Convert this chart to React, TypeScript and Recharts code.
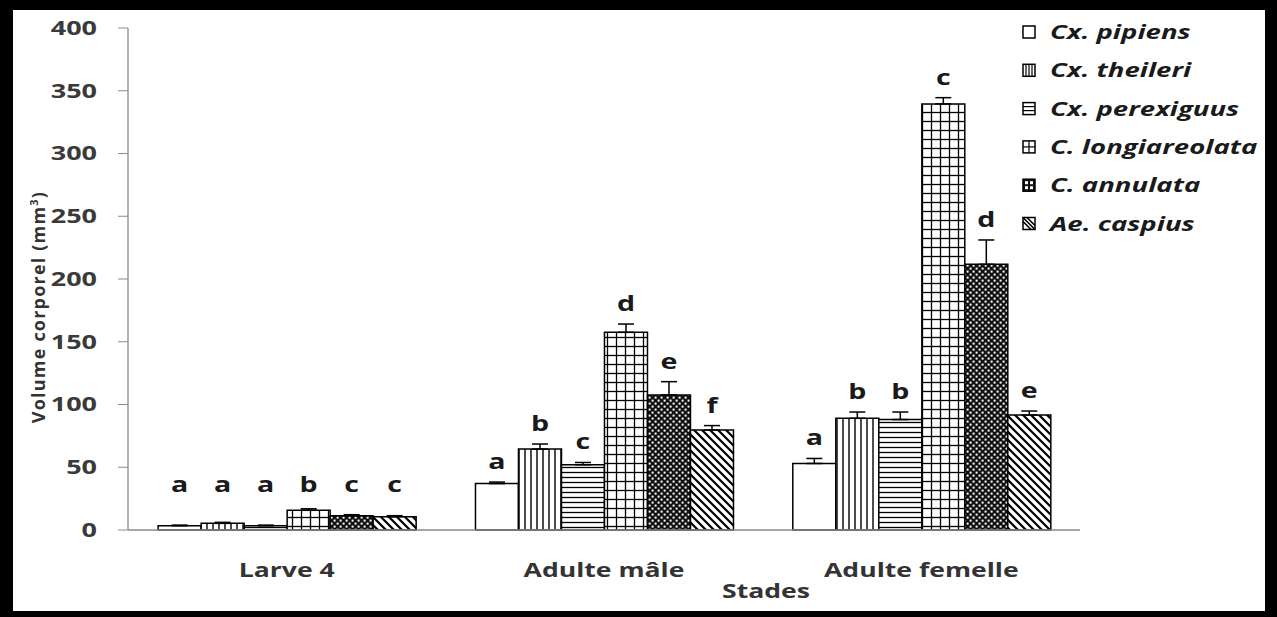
import { BarChart, Bar, XAxis, YAxis, ErrorBar, LabelList, Label } from 'recharts';

// Stades (catégories) et espèces
const stages = ['Larve 4', 'Adulte mâle', 'Adulte femelle'];

const pipiens = [3.4, 37, 53];
const theileri = [5.3, 64.5, 89];
const perexiguus = [3.4, 52, 88];
const longiareolata = [15.7, 157.5, 339.5];
const annulata = [11.4, 107.6, 211.7];
const caspius = [10.6, 79.7, 91.6];

// erreurs (barre supérieure seulement)
const pipiensErr = [0.5, 1.2, 4];
const theileriErr = [0.8, 4, 5];
const perexiguusErr = [0.5, 1.8, 6];
const longiareolataErr = [1.2, 6.6, 5];
const annulataErr = [0.8, 10.6, 19.4];
const caspiusErr = [0.8, 3.5, 3.2];

// lettres de significativité
const pipiensLetters = ['a', 'a', 'a'];
const theileriLetters = ['a', 'b', 'b'];
const perexiguusLetters = ['a', 'c', 'b'];
const longiareolataLetters = ['b', 'd', 'c'];
const annulataLetters = ['c', 'e', 'd'];
const caspiusLetters = ['c', 'f', 'e'];

const yTicks = [0, 50, 100, 150, 200, 250, 300, 350, 400];
const edgeTicks = [0, 1, 2, 3];

const FONT = "'Open Sans', sans-serif";
const GREY = '#8a8a8a';

const SERIES = [
  { key: 'pipiens', name: 'Cx. pipiens', fill: '#ffffff', values: pipiens, errs: pipiensErr, letters: pipiensLetters },
  { key: 'theileri', name: 'Cx. theileri', fill: 'url(#pTheileri)', values: theileri, errs: theileriErr, letters: theileriLetters },
  { key: 'perexiguus', name: 'Cx. perexiguus', fill: 'url(#pPerex)', values: perexiguus, errs: perexiguusErr, letters: perexiguusLetters },
  { key: 'longiareolata', name: 'C. longiareolata', fill: 'url(#pLongi)', values: longiareolata, errs: longiareolataErr, letters: longiareolataLetters },
  { key: 'annulata', name: 'C. annulata', fill: 'url(#pAnnul)', values: annulata, errs: annulataErr, letters: annulataLetters },
  { key: 'caspius', name: 'Ae. caspius', fill: 'url(#pCasp)', values: caspius, errs: caspiusErr, letters: caspiusLetters },
];

const data = stages.map((stage, i) => {
  const row: any = { stage };
  SERIES.forEach((s) => {
    row[s.key] = s.values[i];
    row[s.key + 'Err'] = [0, s.errs[i]];
    row[s.key + 'Letter'] = s.letters[i];
  });
  return row;
});

function YTick(p: any) {
  return (
    <text transform={`translate(${p.x},${p.y}) scale(1.42,1)`} textAnchor="end" dy="0.36em"
      fontFamily={FONT} fontWeight={700} fontSize={19} fill="#3a3a3a">
      {p.payload.value}
    </text>
  );
}

function XTick(p: any) {
  return (
    <text transform={`translate(${p.x},${p.y + 47}) scale(1.33,1)`} textAnchor="middle"
      fontFamily={FONT} fontWeight={700} fontSize={20} fill="#333">
      {p.payload.value}
    </text>
  );
}

// lettre au-dessus de la barre d'erreur
const letterContent = (s: any) => (props: any) => {
  const vb = props.viewBox || props;
  const x = vb.x ?? props.x;
  const y = vb.y ?? props.y;
  const w = vb.width ?? props.width;
  const h = vb.height ?? props.height;
  const i = props.index ?? 0;
  const perUnit = h / s.values[i];
  const errTop = y - s.errs[i] * perUnit;
  const by = Math.min(errTop - 13, y + h - 38);
  return (
    <text transform={`translate(${x + w / 2},${by}) scale(1.3,1)`} textAnchor="middle"
      fontFamily={FONT} fontWeight={700} fontSize={22} fill="#1a1a1a">
      {props.value}
    </text>
  );
};

// petits motifs de la légende (2 traits par case)
function Swatch({ k, x, y }: { k: string; x: number; y: number }) {
  const st = { stroke: '#000', strokeWidth: 1.2 };
  return (
    <g>
      <rect x={x} y={y} width={12} height={12} fill={k === 'annulata' ? '#111' : '#fff'} stroke="#000" strokeWidth={1.5} />
      {k === 'theileri' && [3, 6, 9].map((d) => <line key={d} x1={x + d} y1={y} x2={x + d} y2={y + 12} {...st} />)}
      {k === 'perexiguus' && [4, 8].map((d) => <line key={d} x1={x} y1={y + d} x2={x + 12} y2={y + d} {...st} />)}
      {k === 'longiareolata' && (
        <>
          <line x1={x + 6} y1={y} x2={x + 6} y2={y + 12} {...st} />
          <line x1={x} y1={y + 6} x2={x + 12} y2={y + 6} {...st} />
        </>
      )}
      {k === 'annulata' && [[2, 2], [7, 2], [2, 7], [7, 7]].map(([a, b]) => (
        <rect key={`${a}-${b}`} x={x + a} y={y + b} width={3} height={3} fill="#fff" />
      ))}
      {k === 'caspius' && (
        <path d={`M${x},${y + 4} L${x + 8},${y + 12} M${x},${y} L${x + 12},${y + 12} M${x + 4},${y} L${x + 12},${y + 8}`}
          stroke="#000" strokeWidth={1.6} />
      )}
    </g>
  );
}

function Legendes() {
  return (
    <svg width={262} height={240} style={{ position: 'absolute', left: 1015, top: 12 }}>
      {SERIES.map((s, i) => {
        const cy = 20 + i * 38.3;
        return (
          <g key={s.key}>
            <Swatch k={s.key} x={8} y={cy - 6} />
            <text transform={`translate(35,${cy + 7}) scale(1.45,1)`} fontFamily={FONT} fontStyle="italic"
              fontWeight={700} fontSize={19} fill="#1a1a1a">
              {s.name}
            </text>
          </g>
        );
      })}
    </svg>
  );
}

export default function App() {
  return (
    <div style={{ position: 'fixed', left: 0, top: 0, width: 1277, height: 617, background: '#fff', overflow: 'hidden' }}>
      <BarChart width={1277} height={617} data={data} barCategoryGap="9.5%" barGap={0}
        margin={{ top: 28, right: 197, bottom: 27, left: 0 }}>
        <defs>
          <pattern id="pTheileri" patternUnits="userSpaceOnUse" width={6} height={6}>
            <rect width={6} height={6} fill="#fff" />
            <line x1={3} y1={0} x2={3} y2={6} stroke="#000" strokeWidth={1.4} />
          </pattern>
          <pattern id="pPerex" patternUnits="userSpaceOnUse" width={6} height={5}>
            <rect width={6} height={5} fill="#fff" />
            <line x1={0} y1={2.5} x2={6} y2={2.5} stroke="#000" strokeWidth={1.3} />
          </pattern>
          <pattern id="pLongi" patternUnits="userSpaceOnUse" width={9} height={9}>
            <rect width={9} height={9} fill="#fff" />
            <line x1={4.5} y1={0} x2={4.5} y2={9} stroke="#000" strokeWidth={1.3} />
            <line x1={0} y1={4.5} x2={9} y2={4.5} stroke="#000" strokeWidth={1.3} />
          </pattern>
          <pattern id="pAnnul" patternUnits="userSpaceOnUse" width={6} height={6}>
            <rect width={6} height={6} fill="#111" />
            <rect x={0.6} y={0.6} width={2} height={2} fill="#fff" />
            <rect x={3.6} y={3.6} width={2} height={2} fill="#fff" />
          </pattern>
          <pattern id="pCasp" patternUnits="userSpaceOnUse" width={8} height={8}>
            <rect width={8} height={8} fill="#fff" />
            <path d="M0,0 L8,8 M-2,6 L2,10 M6,-2 L10,2" stroke="#000" strokeWidth={2.2} />
          </pattern>
        </defs>

        {/* axe des catégories (ligne + libellés), puis marques de séparation entre catégories */}
        <XAxis dataKey="stage" tick={<XTick />} tickLine={false} tickSize={0} tickMargin={0}
          axisLine={{ stroke: GREY, strokeWidth: 1.3 }} height={1} interval={0}>
          <Label content={(p: any) => {
            const vb = p.viewBox;
            return (
              <text transform={`translate(${vb.x + vb.width / 2 + 162},${vb.y + 68}) scale(1.33,1)`}
                textAnchor="middle" fontFamily={FONT} fontWeight={700} fontSize={20} fill="#333">
                Stades
              </text>
            );
          }} />
        </XAxis>
        <XAxis xAxisId="edge" type="number" domain={[0, 3]} ticks={edgeTicks} tick={false}
          axisLine={false} tickSize={8} tickLine={{ stroke: GREY }} height={59} allowDataOverflow />
        <YAxis domain={[0, 400]} ticks={yTicks} width={128} tick={<YTick />} tickSize={10} tickMargin={21}
          tickLine={{ stroke: GREY }} axisLine={{ stroke: GREY, strokeWidth: 1.3 }} interval={0}>
          <Label content={(p: any) => {
            const vb = p.viewBox;
            const cx = 39;
            const cy = vb.y + vb.height / 2 + 28;
            return (
              <text transform={`translate(${cx},${cy}) rotate(-90)`} textAnchor="middle" dy="0.35em"
                fontFamily={FONT} fontWeight={700} fontSize={18} letterSpacing={1.2} fill="#333">
                Volume corporel (mm<tspan fontSize={11} dy={-7}>3</tspan><tspan dy={7}>)</tspan>
              </text>
            );
          }} />
        </YAxis>

        {SERIES.map((s) => (
          <Bar key={s.key} dataKey={s.key} name={s.name} fill={s.fill} stroke="#000" strokeWidth={1.5}
            isAnimationActive={false}>
            <ErrorBar dataKey={s.key + 'Err'} width={8} stroke="#000" strokeWidth={1.5} direction="y" />
            <LabelList dataKey={s.key + 'Letter'} content={letterContent(s)} />
          </Bar>
        ))}
      </BarChart>
      <Legendes />
      <div style={{
        position: 'absolute', left: 0, top: 0, width: 1277, height: 617, boxSizing: 'border-box',
        borderStyle: 'solid', borderColor: '#000', borderWidth: '10px 12px 6px 13px', pointerEvents: 'none',
      }} />
    </div>
  );
}
